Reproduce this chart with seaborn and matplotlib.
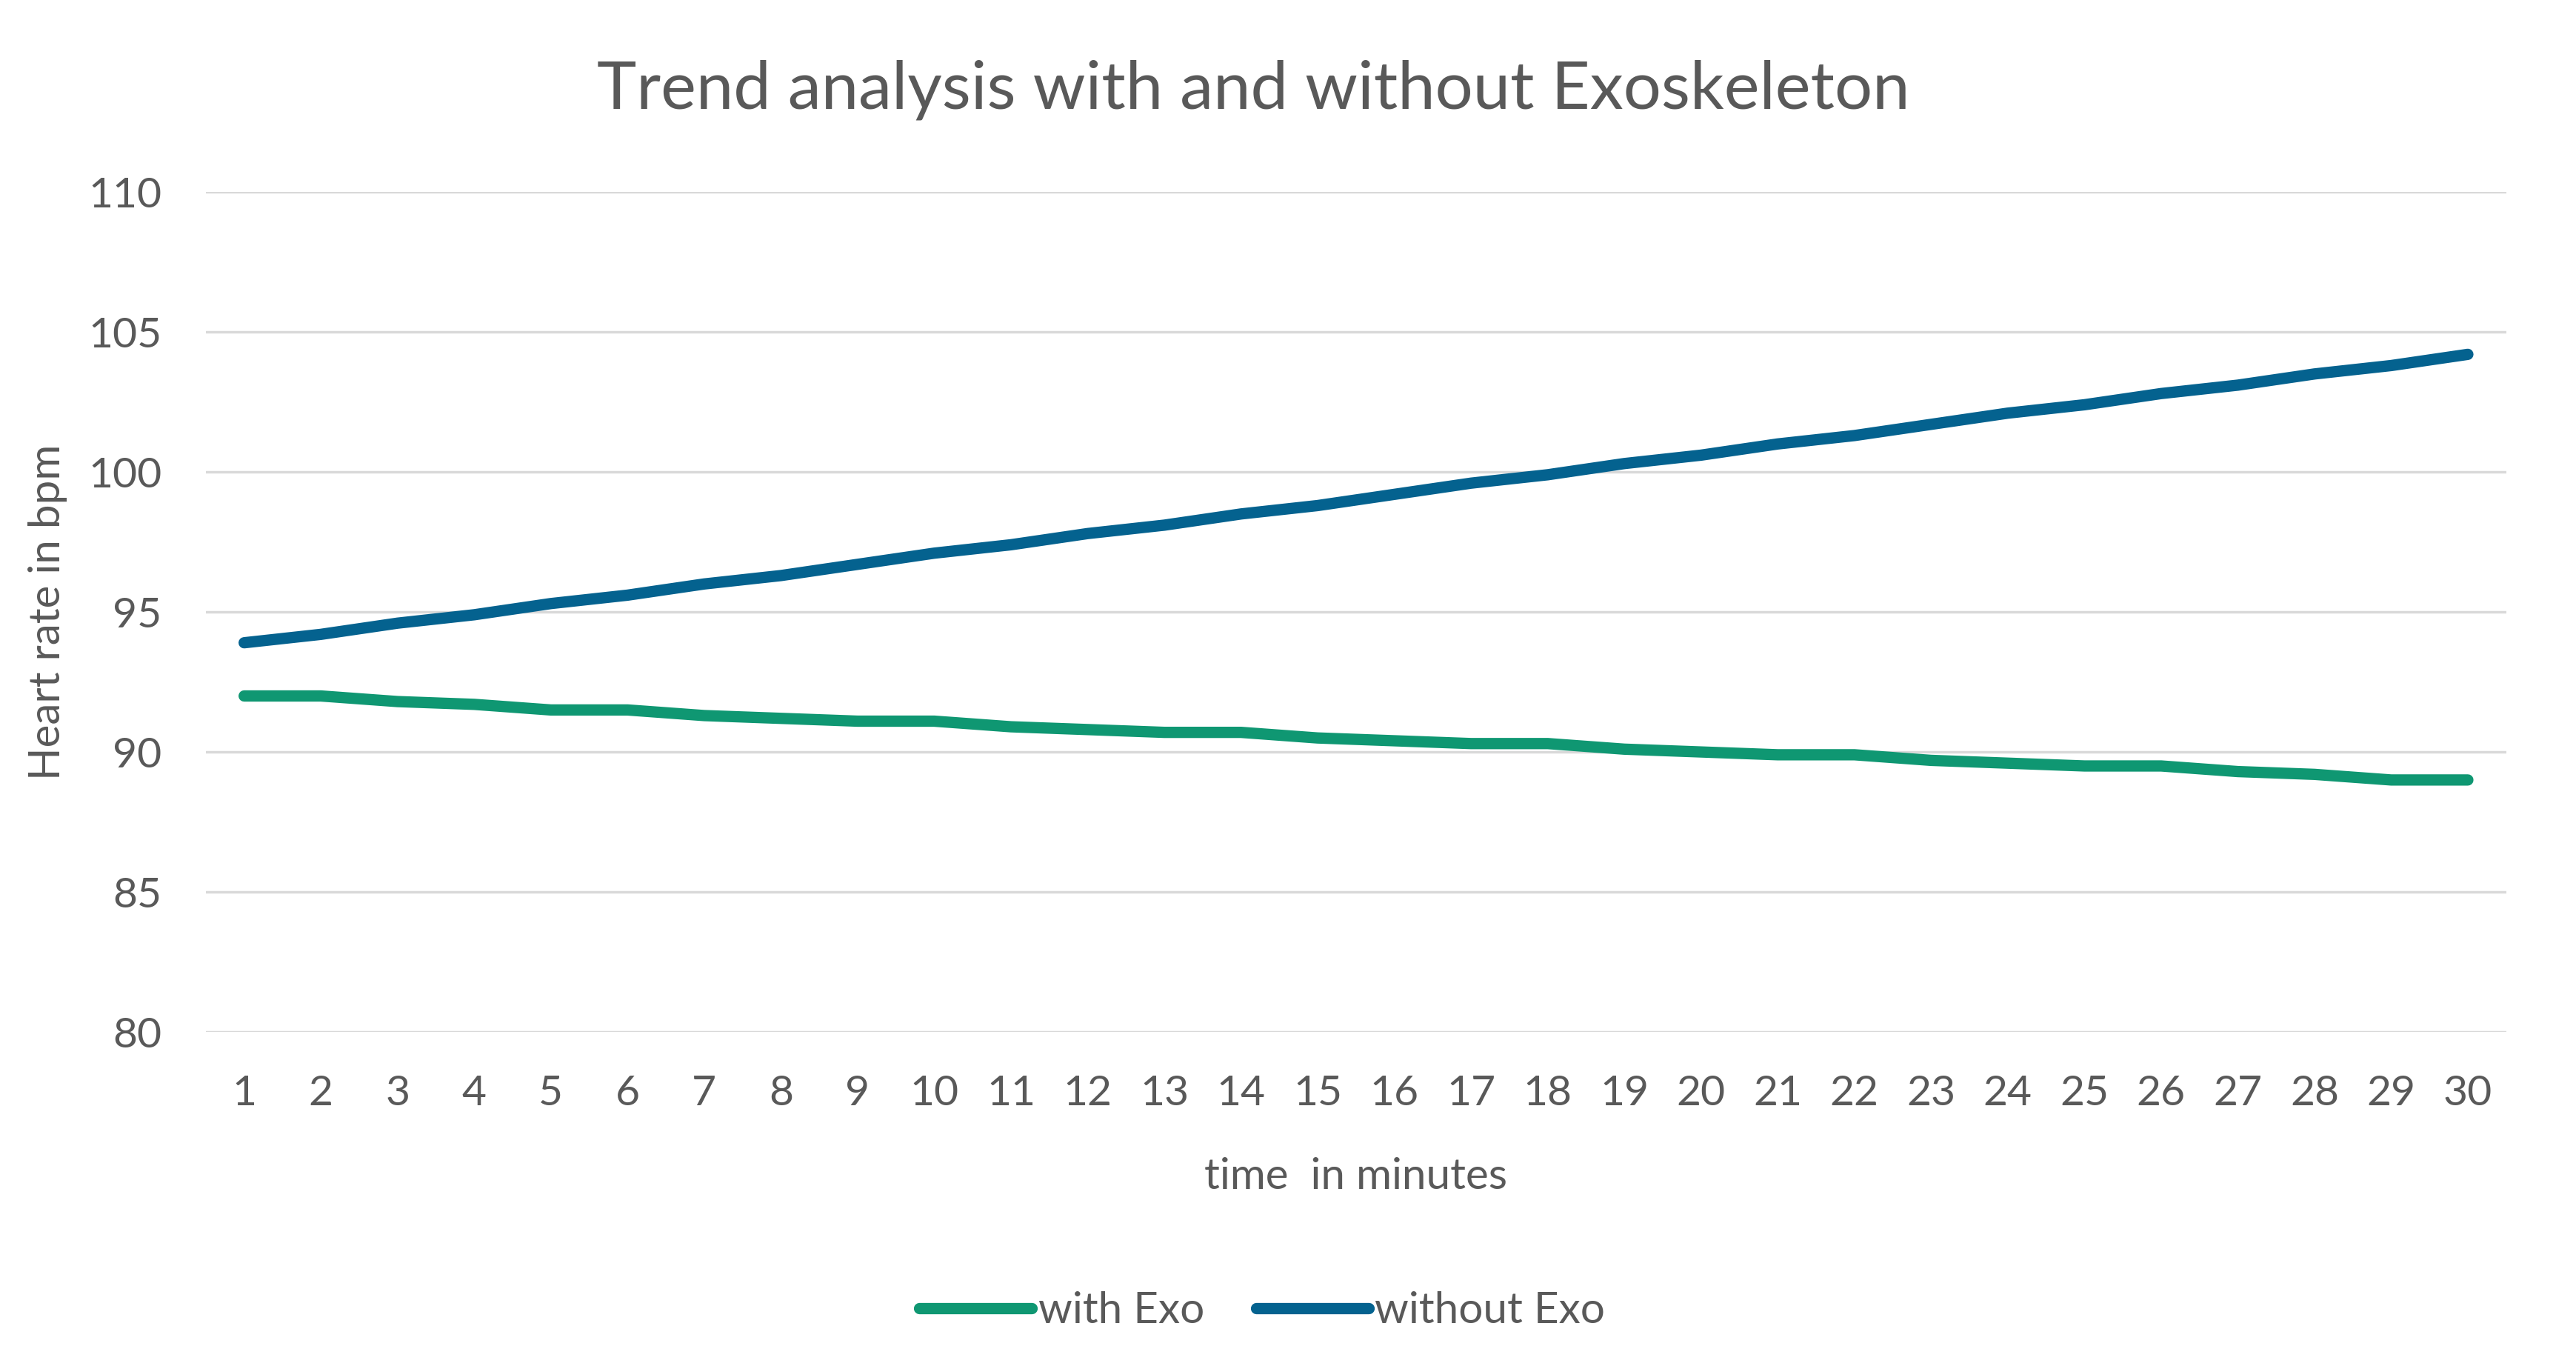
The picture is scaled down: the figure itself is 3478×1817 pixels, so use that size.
import numpy as np
import pandas as pd
import matplotlib.pyplot as plt
import seaborn as sns
from matplotlib.lines import Line2D

# data
minutes = list(range(1, 31))
with_exo = [92.0, 92.0, 91.8, 91.7, 91.5, 91.5, 91.3, 91.2, 91.1, 91.1,
            90.9, 90.8, 90.7, 90.7, 90.5, 90.4, 90.3, 90.3, 90.1, 90.0,
            89.9, 89.9, 89.7, 89.6, 89.5, 89.5, 89.3, 89.2, 89.0, 89.0]
without_exo = [93.9, 94.2, 94.6, 94.9, 95.3, 95.6, 96.0, 96.3, 96.7, 97.1,
               97.4, 97.8, 98.1, 98.5, 98.8, 99.2, 99.6, 99.9, 100.3, 100.6,
               101.0, 101.3, 101.7, 102.1, 102.4, 102.8, 103.1, 103.5, 103.8, 104.2]
series_names = ['with Exo', 'without Exo']
colors = ['#0F9772', '#04628F']
y_ticks = [80, 85, 90, 95, 100, 105, 110]

df = pd.DataFrame({
    'minute': minutes * 2,
    'hr': with_exo + without_exo,
    'series': [series_names[0]] * 30 + [series_names[1]] * 30,
})

sns.set_style('white')
plt.rcParams['font.family'] = ['Lato', 'DejaVu Sans']
text_color = '#595959'

fig = plt.figure(figsize=(34.78, 18.17), dpi=100)
ax = fig.add_axes([0.0799, 0.2333, 0.893, 0.6241])

sns.lineplot(data=df, x='minute', y='hr', hue='series', palette=colors,
             linewidth=11, ax=ax, legend=False, solid_capstyle='round')

ax.set_xlim(0.5, 30.5)
ax.set_ylim(80, 110)
ax.set_yticks(y_ticks)
ax.set_xticks(minutes)
ax.yaxis.grid(True, color='#D9D9D9', linewidth=2.5)
ax.set_axisbelow(True)
for s in ax.spines.values():
    s.set_visible(False)
ax.tick_params(axis='both', length=0, labelsize=41, colors=text_color)
ax.tick_params(axis='x', pad=42)
ax.tick_params(axis='y', pad=43)

ax.set_xlabel('time  in minutes', fontsize=42, color=text_color, va='baseline')
ax.xaxis.set_label_coords(0.5, -0.187)
ax.set_ylabel('Heart rate in bpm', fontsize=42, color=text_color, va='center')
ax.yaxis.set_label_coords(-0.0686, 0.5)

fig.text(0.4865, 0.9191, 'Trend analysis with and without Exoskeleton',
         ha='center', va='baseline', fontsize=65, color=text_color)

handles = [Line2D([0], [0], color=c, linewidth=11, solid_capstyle='round') for c in colors]
fig.legend(handles, series_names, loc='center', bbox_to_anchor=(0.490, 0.026),
           ncol=2, frameon=False, fontsize=42, handlelength=2.6,
           handletextpad=0.15, columnspacing=1.2, labelcolor=text_color,
           borderpad=0, borderaxespad=0)

fig.savefig('out.png', dpi=100)
